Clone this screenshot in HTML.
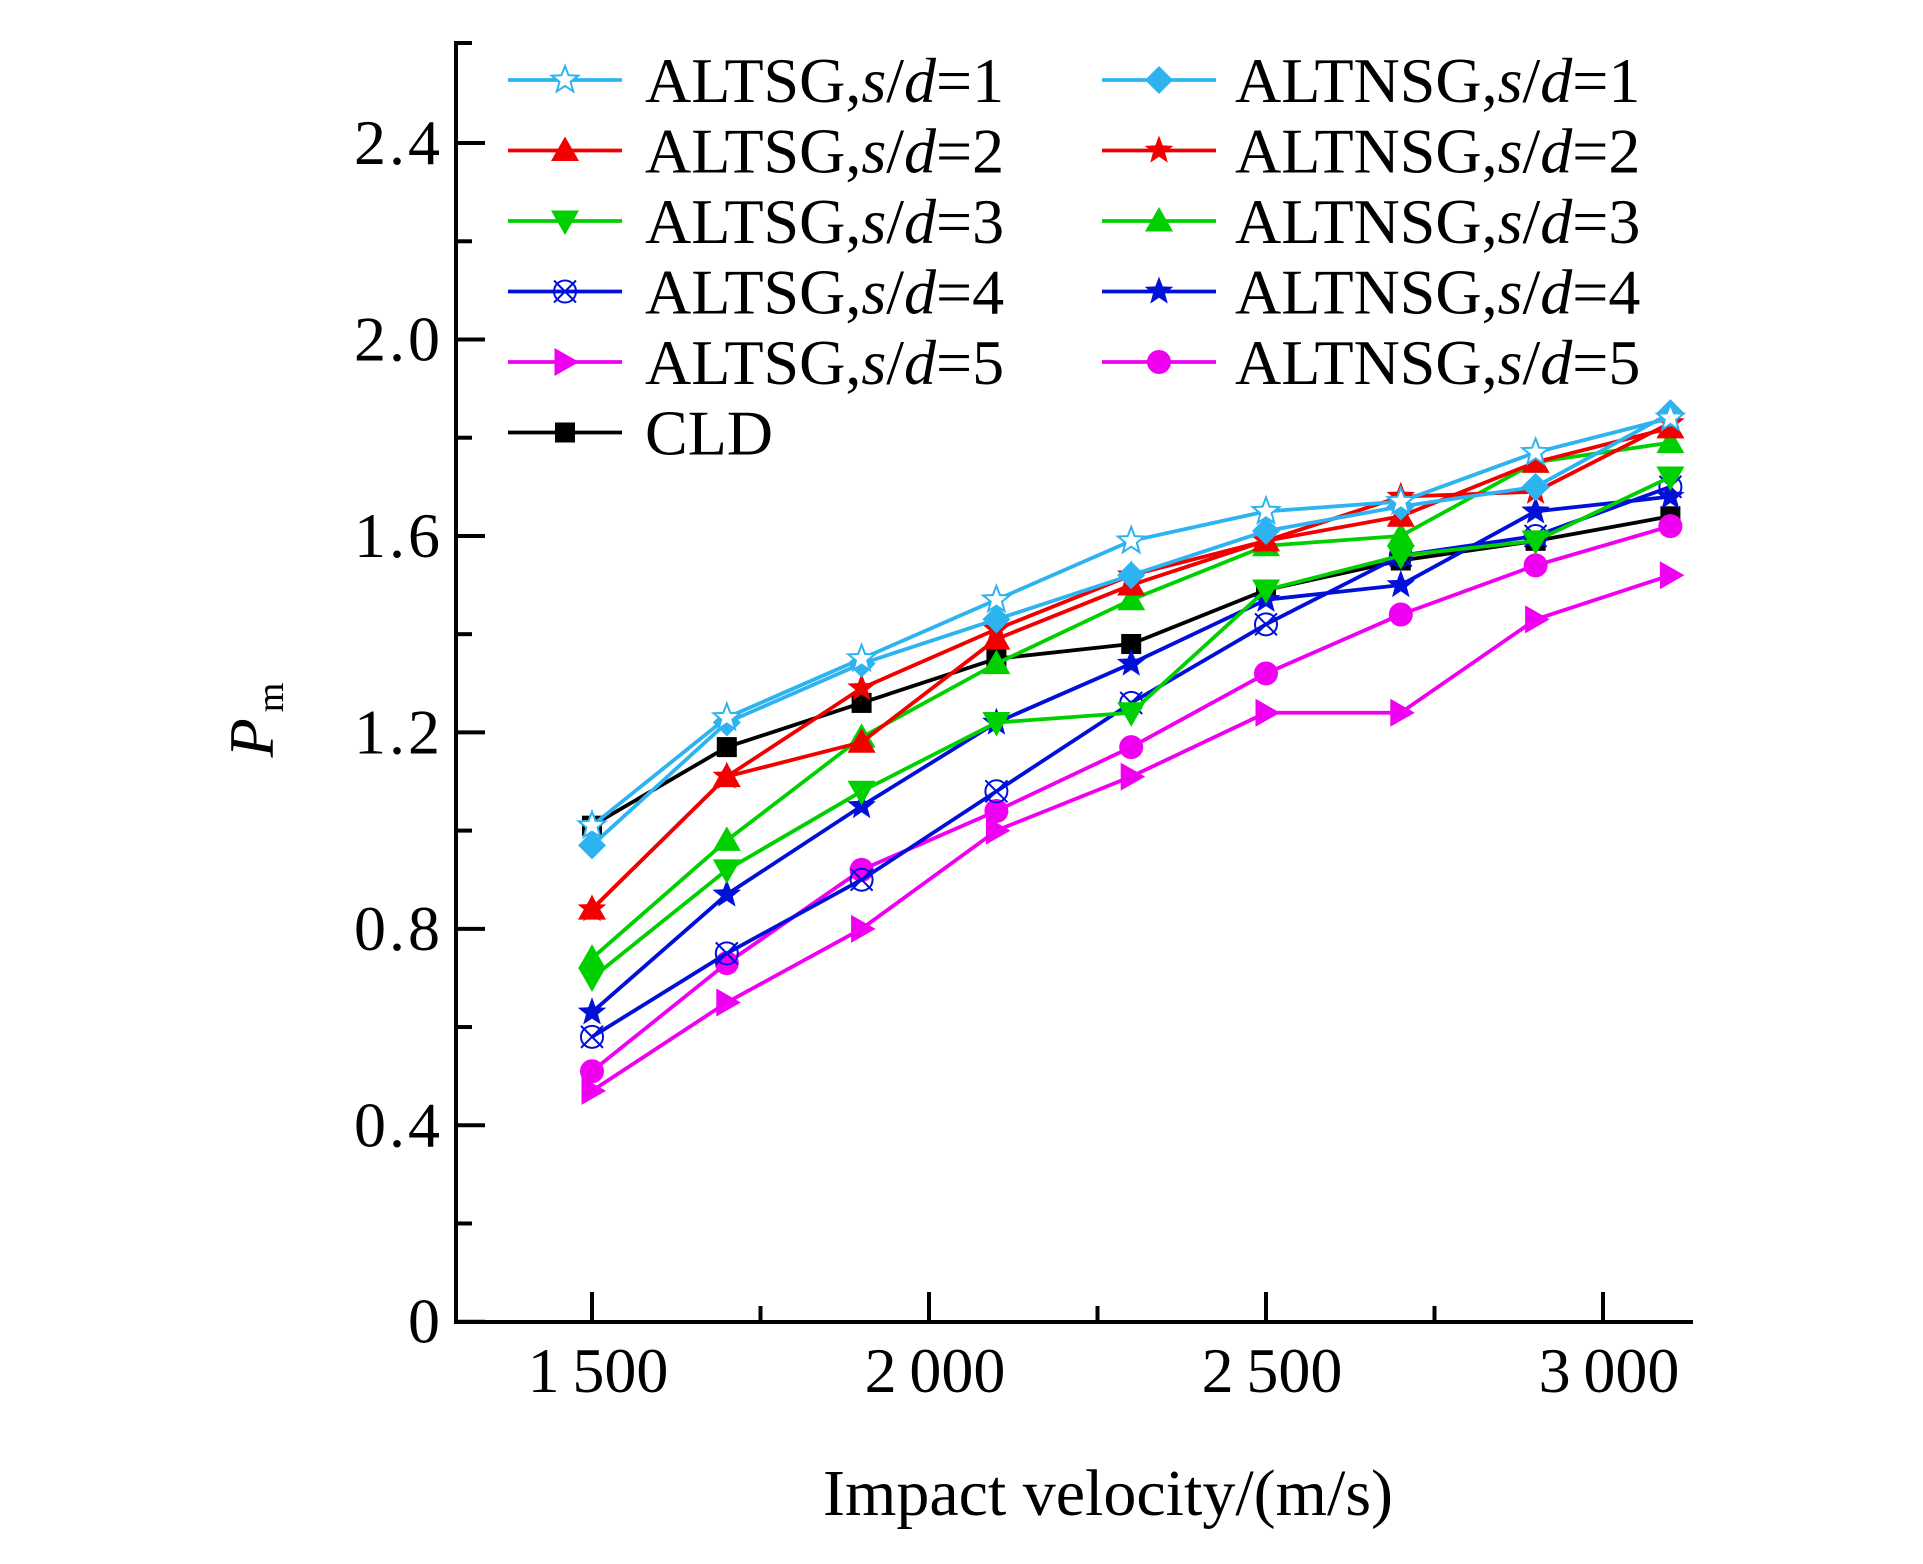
<!DOCTYPE html>
<html><head><meta charset="utf-8"><style>
body{margin:0;background:#fff;}
svg text{font-family:"Liberation Serif",serif;}
</style></head><body>
<svg id="chart" width="1923" height="1559" xmlns="http://www.w3.org/2000/svg">
<g id="marks"></g>
<g id="axes"></g>
<g id="legend"></g>
</svg>
<script>
const categories=[1500,1700,1900,2100,2300,2500,2700,2900,3100];
const altsg1=[1.01,1.23,1.35,1.47,1.59,1.65,1.67,1.77,1.84];
const altnsg1=[0.97,1.22,1.34,1.43,1.52,1.61,1.66,1.70,1.85];
const altsg2=[0.84,1.11,1.18,1.39,1.50,1.59,1.64,1.75,1.82];
const altnsg2=[0.84,1.11,1.29,1.41,1.52,1.59,1.68,1.69,1.83];
const altsg3=[0.70,0.92,1.08,1.22,1.24,1.49,1.56,1.59,1.72];
const altnsg3=[0.74,0.98,1.19,1.34,1.47,1.58,1.60,1.75,1.79];
const altsg4=[0.58,0.75,0.90,1.08,1.26,1.42,1.56,1.60,1.70];
const altnsg4=[0.63,0.87,1.05,1.22,1.34,1.47,1.50,1.65,1.68];
const altsg5=[0.47,0.65,0.80,1.00,1.11,1.24,1.24,1.43,1.52];
const altnsg5=[0.51,0.73,0.92,1.04,1.17,1.32,1.44,1.54,1.62];
const cld=[1.01,1.17,1.26,1.35,1.38,1.49,1.55,1.59,1.64];
const yTicks=[0,0.4,0.8,1.2,1.6,2.0,2.4];
const yTickLabels=["0","0.4","0.8","1.2","1.6","2.0","2.4"];
const xTicks=[1500,2000,2500,3000];
const xTickLabels=["1\u2009500","2\u2009000","2\u2009500","3\u2009000"];

const X=v=>592+(v-1500)*0.674;
const Y=v=>1321.7-v*491.1;
const NS="http://www.w3.org/2000/svg";
function mk(tag,attrs,parent){const e=document.createElementNS(NS,tag);for(const k in attrs)e.setAttribute(k,attrs[k]);parent.appendChild(e);return e;}

function starPts(cx,cy,R){const r=R*0.42;let p=[];for(let i=0;i<10;i++){const a=-Math.PI/2+i*Math.PI/5;const rr=i%2?r:R;p.push((cx+rr*Math.cos(a)).toFixed(1)+","+(cy+rr*Math.sin(a)).toFixed(1));}return p.join(" ");}
function marker(type,cx,cy,color,parent){
  const s=14;let e;
  if(type==="staro"){e=mk("polygon",{points:starPts(cx,cy,s),fill:"#fff",stroke:color,"stroke-width":2},parent);}
  else if(type==="star"){e=mk("polygon",{points:starPts(cx,cy,s+1),fill:color},parent);}
  else if(type==="diamond"){e=mk("polygon",{points:`${cx},${cy-s} ${cx+s},${cy} ${cx},${cy+s} ${cx-s},${cy}`,fill:color},parent);}
  else if(type==="up"){e=mk("polygon",{points:`${cx},${cy-s} ${cx+s},${cy+s*0.75} ${cx-s},${cy+s*0.75}`,fill:color},parent);}
  else if(type==="down"){e=mk("polygon",{points:`${cx},${cy+s} ${cx+s},${cy-s*0.75} ${cx-s},${cy-s*0.75}`,fill:color},parent);}
  else if(type==="right"){e=mk("polygon",{points:`${cx+s},${cy} ${cx-s*0.75},${cy-s} ${cx-s*0.75},${cy+s}`,fill:color},parent);}
  else if(type==="circle"){e=mk("circle",{cx:cx,cy:cy,r:12,fill:color},parent);}
  else if(type==="square"){e=mk("rect",{x:cx-10,y:cy-10,width:20,height:20,fill:color},parent);}
  else if(type==="cx"){e=mk("g",{},parent);
    mk("circle",{cx:cx,cy:cy,r:11,fill:"none",stroke:color,"stroke-width":2},e);
    mk("path",{d:`M${cx-11},${cy-11}L${cx+11},${cy+11}M${cx-11},${cy+11}L${cx+11},${cy-11}`,stroke:color,"stroke-width":2},e);}
  return e;
}
const series=[
 {name:"ALTSG",sd:"1",v:altsg1,c:"#2db4f0",m:"staro",col:0,row:0},
 {name:"ALTNSG",sd:"1",v:altnsg1,c:"#2db4f0",m:"diamond",col:1,row:0},
 {name:"ALTSG",sd:"2",v:altsg2,c:"#f20000",m:"up",col:0,row:1},
 {name:"ALTNSG",sd:"2",v:altnsg2,c:"#f20000",m:"star",col:1,row:1},
 {name:"ALTSG",sd:"3",v:altsg3,c:"#00d000",m:"down",col:0,row:2},
 {name:"ALTNSG",sd:"3",v:altnsg3,c:"#00d000",m:"up",col:1,row:2},
 {name:"ALTSG",sd:"4",v:altsg4,c:"#0010d8",m:"cx",col:0,row:3},
 {name:"ALTNSG",sd:"4",v:altnsg4,c:"#0010d8",m:"star",col:1,row:3},
 {name:"ALTSG",sd:"5",v:altsg5,c:"#f000f0",m:"right",col:0,row:4},
 {name:"ALTNSG",sd:"5",v:altnsg5,c:"#f000f0",m:"circle",col:1,row:4},
 {name:"CLD",sd:null,v:cld,c:"#000",m:"square",col:0,row:5}
];
const marks=document.getElementById("marks");
series.slice().reverse().forEach(s=>{
  const g=mk("g",{},marks);
  
  
  const pl=mk("polyline",{points:s.v.map((v,i)=>X(categories[i])+","+Y(v)).join(" "),fill:"none",stroke:s.c,"stroke-width":3.8,"stroke-linejoin":"round"},g);
  
  
  s.v.forEach((v,i)=>{const m=marker(s.m,X(categories[i]),Y(v),s.c,g);
    
    });
});
const axes=document.getElementById("axes");
const ya=mk("path",{d:"M472,43 L456,43 L456,1322",stroke:"#000","stroke-width":4,fill:"none"},axes);


const xa=mk("path",{d:"M454,1322 L1693,1322",stroke:"#000","stroke-width":4},axes);


yTicks.forEach((t,i)=>{
  mk("line",{x1:456,x2:485,y1:Y(t),y2:Y(t),stroke:"#000","stroke-width":4},axes);
  if(i<yTicks.length-1) mk("line",{x1:456,x2:472,y1:Y(t+0.2),y2:Y(t+0.2),stroke:"#000","stroke-width":4},axes);
  const tx=mk("text",{x:443,y:Y(t)+21,"text-anchor":"end","font-size":64,"letter-spacing":"3"},axes);
  tx.textContent=yTickLabels[i];
  
  
});
xTicks.forEach((t,i)=>{
  mk("line",{x1:X(t),x2:X(t),y1:1322,y2:1292,stroke:"#000","stroke-width":4},axes);
  if(t+250<3200) mk("line",{x1:X(t+250),x2:X(t+250),y1:1322,y2:1306,stroke:"#000","stroke-width":4},axes);
  const tx=mk("text",{x:X(t)+6,y:1392,"text-anchor":"middle","font-size":64},axes);
  tx.textContent=xTickLabels[i];
  
  
});
const xt=mk("text",{x:1108,y:1515,"text-anchor":"middle","font-size":66},axes);
xt.textContent="Impact velocity/(m/s)";


const yt=mk("text",{transform:"translate(273,720) rotate(-90)","text-anchor":"middle","font-size":64},axes);
yt.innerHTML='<tspan font-style="italic">P</tspan><tspan font-size="38" dy="10" dx="6">m</tspan>';



const leg=document.getElementById("legend");
series.forEach(s=>{
  const x0=s.col?1102:508, y=80+s.row*70.5;
  const g=mk("g",{},leg);
  
  
  mk("line",{x1:x0,x2:x0+114,y1:y,y2:y,stroke:s.c,"stroke-width":3.8},g);
  marker(s.m,x0+57,y,s.c,g);
  const t=mk("text",{x:x0+(s.col?133:137),y:y+22,"font-size":64},g);
  t.innerHTML=s.sd?`${s.name},<tspan font-style="italic">s</tspan>/<tspan font-style="italic">d</tspan>=${s.sd}`:s.name;
});
</script>
</body></html>
